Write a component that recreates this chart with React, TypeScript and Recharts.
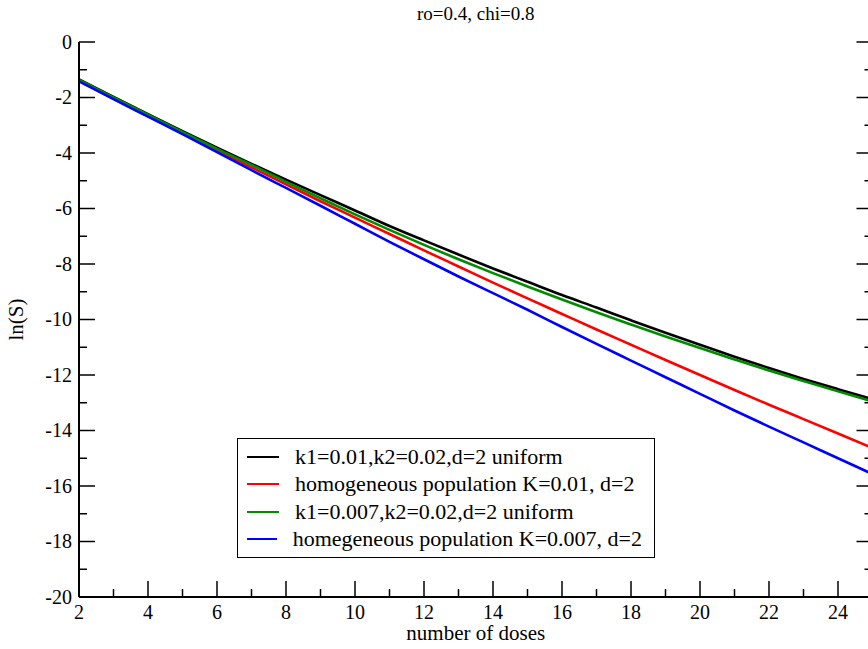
import React from 'react';
import { LineChart, Line, XAxis, YAxis, Legend, Label } from 'recharts';

const doses = [2, 3, 4, 5, 6, 7, 8, 9, 10, 11, 12, 13, 14, 15, 16, 17, 18, 19, 20, 21, 22, 23, 24, 25];
const uniformK1_001 = [-1.35, -1.98, -2.6, -3.21, -3.81, -4.39, -4.96, -5.52, -6.07, -6.63, -7.15, -7.66, -8.16, -8.64, -9.12, -9.57, -10.03, -10.48, -10.91, -11.34, -11.75, -12.14, -12.51, -12.87];
const homogK_001 = [-1.4, -2.04, -2.67, -3.29, -3.91, -4.52, -5.13, -5.74, -6.33, -6.92, -7.51, -8.09, -8.67, -9.24, -9.8, -10.36, -10.91, -11.46, -12.0, -12.54, -13.07, -13.59, -14.11, -14.63];
const uniformK1_0007 = [-1.37, -2.0, -2.62, -3.24, -3.85, -4.43, -5.04, -5.63, -6.21, -6.77, -7.31, -7.83, -8.33, -8.81, -9.28, -9.74, -10.18, -10.61, -11.03, -11.44, -11.84, -12.22, -12.59, -12.95];
const homogK_0007 = [-1.42, -2.06, -2.69, -3.32, -3.97, -4.62, -5.26, -5.9, -6.55, -7.2, -7.83, -8.45, -9.05, -9.65, -10.27, -10.88, -11.48, -12.08, -12.68, -13.28, -13.86, -14.43, -15.0, -15.57];

const seriesNames = [
  'k1=0.01,k2=0.02,d=2 uniform',
  'homogeneous population K=0.01, d=2',
  'k1=0.007,k2=0.02,d=2 uniform',
  'homegeneous population K=0.007, d=2',
];
const seriesColors = ['#000000', '#ff0000', '#008b00', '#0000ff'];
const xTicks = [2, 3, 4, 5, 6, 7, 8, 9, 10, 11, 12, 13, 14, 15, 16, 17, 18, 19, 20, 21, 22, 23, 24, 25];
const yTicks = [-20, -19, -18, -17, -16, -15, -14, -13, -12, -11, -10, -9, -8, -7, -6, -5, -4, -3, -2, -1, 0];
const title = 'ro=0.4, chi=0.8';
const xLabel = 'number of doses';
const yLabel = 'ln(S)';

const data = doses.map((d, i) => ({
  dose: d,
  a: uniformK1_001[i],
  b: homogK_001[i],
  c: uniformK1_0007[i],
  e: homogK_0007[i],
}));
const keys = ['a', 'b', 'c', 'e'];

const FONT = '"Liberation Serif", "Times New Roman", Times, serif';
const MAJ = 16;
const MIN = 8;
const TICK_W = 1.5;
const TICK_FS = 20;

const isMajor = (v: number) => Math.abs(v) % 2 === 0;

const txtStyle = { fontFamily: FONT };

const LeftTick = (p: any) => {
  const { x, y, payload } = p;
  const m = isMajor(payload.value);
  return (
    <g>
      <line x1={x} x2={x + (m ? MAJ : MIN)} y1={y} y2={y} stroke="#000" strokeWidth={TICK_W} />
      {m && (
        <text x={x - 7} y={y} dy="0.34em" textAnchor="end" style={txtStyle} fontFamily={FONT} fontSize={TICK_FS} fill="#000">
          {String(payload.value)}
        </text>
      )}
    </g>
  );
};
const RightTick = (p: any) => {
  const { x, y, payload } = p;
  const m = isMajor(payload.value);
  return <line x1={x} x2={x - (m ? MAJ : MIN)} y1={y} y2={y} stroke="#000" strokeWidth={TICK_W} />;
};
const BottomTick = (p: any) => {
  const { x, y, payload } = p;
  const m = isMajor(payload.value);
  return (
    <g>
      <line x1={x} x2={x} y1={y} y2={y - (m ? MAJ : MIN)} stroke="#000" strokeWidth={TICK_W} />
      {m && (
        <text x={x} y={y + 22} textAnchor="middle" style={txtStyle} fontFamily={FONT} fontSize={TICK_FS} fill="#000">
          {String(payload.value)}
        </text>
      )}
    </g>
  );
};
const TopTick = (p: any) => {
  const { x, y, payload } = p;
  const m = isMajor(payload.value);
  return <line x1={x} x2={x} y1={y} y2={y + (m ? MAJ : MIN)} stroke="#000" strokeWidth={TICK_W} />;
};

const LegendBox = () => (
  <div
    style={{
      border: '1.5px solid #000',
      background: '#fff',
      padding: '4px 12px 4px 9px',
      fontFamily: FONT,
      fontSize: 22,
      color: '#000',
      boxSizing: 'border-box',
      width: 418,
    }}
  >
    {seriesNames.map((name, i) => (
      <div key={i} style={{ display: 'flex', alignItems: 'center', height: 27.5, whiteSpace: 'nowrap' }}>
        <span style={{ display: 'inline-block', width: 32, height: 0, borderTop: `2.5px solid ${seriesColors[i]}`, marginRight: 16 }} />
        <span>{name}</span>
      </div>
    ))}
  </div>
);

export default function App() {
  return (
    <div style={{ position: 'fixed', left: 0, top: 0, width: 868, height: 649, overflow: 'hidden', background: '#fff' }}>
      <LineChart width={880} height={649} data={data} margin={{ top: 42, right: 0, bottom: 0, left: 0 }}>
        <XAxis
          xAxisId="bottom"
          dataKey="dose"
          type="number"
          domain={[2, 25]}
          ticks={xTicks}
          interval={0}
          allowDataOverflow
          height={52}
          tickSize={0}
          tickMargin={0}
          tickLine={false}
          axisLine={{ stroke: '#000', strokeWidth: 2 }}
          tick={(p: any) => <BottomTick {...p} />}
        >
          <Label
            content={(p: any) => {
              const vb = p.viewBox || {};
              const cx = vb.x + vb.width / 2;
              return (
                <g>
                  <text x={cx} y={vb.y + vb.height - 9} textAnchor="middle" style={txtStyle} fontFamily={FONT} fontSize={21} fill="#000">
                    {xLabel}
                  </text>
                  <text x={cx} y={20} textAnchor="middle" style={txtStyle} fontFamily={FONT} fontSize={19} fill="#000">
                    {title}
                  </text>
                </g>
              );
            }}
          />
        </XAxis>
        <XAxis
          xAxisId="top"
          dataKey="dose"
          type="number"
          orientation="top"
          domain={[2, 25]}
          ticks={xTicks}
          interval={0}
          allowDataOverflow
          height={0}
          tickSize={0}
          tickMargin={0}
          tickLine={false}
          axisLine={{ stroke: '#000', strokeWidth: 2 }}
          tick={(p: any) => <TopTick {...p} />}
        />
        <YAxis
          yAxisId="left"
          type="number"
          domain={[-20, 0]}
          ticks={yTicks}
          interval={0}
          allowDataOverflow
          width={79}
          tickSize={0}
          tickMargin={0}
          tickLine={false}
          axisLine={{ stroke: '#000', strokeWidth: 2 }}
          tick={(p: any) => <LeftTick {...p} />}
        >
          <Label
            content={(p: any) => {
              const vb = p.viewBox || {};
              const cx = vb.x + 16;
              const cy = vb.y + vb.height / 2;
              return (
                <text x={cx} y={cy} transform={`rotate(-90, ${cx}, ${cy})`} textAnchor="middle" dominantBaseline="central" style={txtStyle} fontFamily={FONT} fontSize={21} fill="#000">
                  {yLabel}
                </text>
              );
            }}
          />
        </YAxis>
        <YAxis
          yAxisId="right"
          type="number"
          orientation="right"
          domain={[-20, 0]}
          ticks={yTicks}
          interval={0}
          allowDataOverflow
          width={7.5}
          tickSize={0}
          tickMargin={0}
          tickLine={false}
          axisLine={{ stroke: '#000', strokeWidth: 2 }}
          tick={(p: any) => <RightTick {...p} />}
        />
        <Legend
          layout="vertical"
          align="center"
          verticalAlign="middle"
          wrapperStyle={{ position: 'absolute', left: 237, top: 438, width: 'auto', height: 'auto' }}
          content={() => <LegendBox />}
        />
        {keys.map((k, i) => (
          <Line
            key={k}
            xAxisId="bottom"
            yAxisId="left"
            dataKey={k}
            name={seriesNames[i]}
            stroke={seriesColors[i]}
            strokeWidth={2.6}
            dot={false}
            type="monotone"
            isAnimationActive={false}
          />
        ))}
      </LineChart>
    </div>
  );
}
